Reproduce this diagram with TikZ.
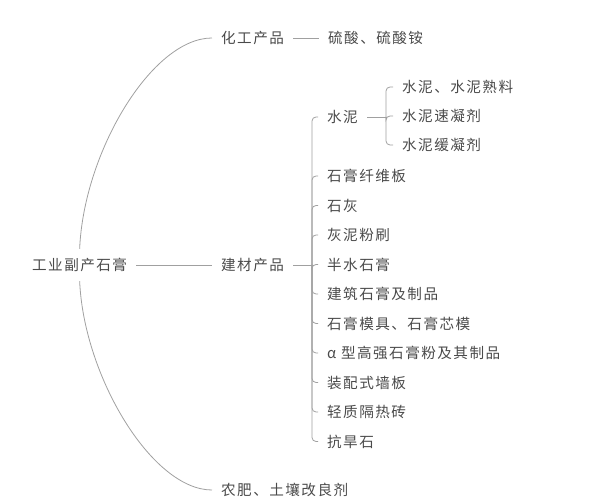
\documentclass[tikz,border=0pt]{standalone}
\usepackage{fontspec}
\newfontfamily\cjk[LetterSpace=10]{Noto Sans CJK SC}
\usetikzlibrary{calc, positioning}
\definecolor{txtgray}{HTML}{4A4A4A}
\definecolor{lngray}{HTML}{A0A0A0}
\tikzset{
  lbl/.style={anchor=west, inner xsep=9pt, inner ysep=3pt, text=txtgray, font=\cjk\fontsize{14.6pt}{16pt}\selectfont},
  link/.style={draw=lngray, line width=0.8pt},
}

\begin{document}
\begin{tikzpicture}[x=1pt, y=-1pt]
\useasboundingbox (0,0) rectangle (600,502);
% root and main branches
\node[lbl, inner ysep=9pt] (root) at (23,265) {工业副产石膏};
\node[lbl] (hg) at (212,38) {化工产品};
\node[lbl] (jc) at (212,265) {建材产品};
\node[lbl] (nf) at (212,490) {农肥、土壤改良剂};
\node[lbl] (ls) at (319,38) {硫酸、硫酸铵};
\draw[link] (root.north) .. controls +(4,-97) and +(-60,0) .. (hg.west);
\draw[link] (root.south) .. controls +(4,95) and +(-60,0) .. (nf.west);
\draw[link] (root.east) -- (jc.west);
\draw[link] (hg.east) -- (ls.west);
% building materials
\node[lbl] (sn) at (318,117) {水泥};
\foreach \t [count=\i from 2] in {石膏纤维板, 石灰, 灰泥粉刷, 半水石膏, 建筑石膏及制品, 石膏模具、石膏芯模, α 型高强石膏粉及其制品, 装配式墙板, 轻质隔热砖, 抗旱石}
  \node[lbl] (m\i) at (318,{117+29.5*\i}) {\t};
\coordinate (jb) at (312,265);
\draw[link] (jc.east) -- (jb);
\foreach \c in {sn, m2, m3, m4, m5, m6, m7, m8, m9, m10, m11}
  \draw[link, rounded corners=4pt] (jb) |- (\c.west);
% cement
\node[lbl] (s1) at (393,87) {水泥、水泥熟料};
\node[lbl] (s2) at (393,116) {水泥速凝剂};
\node[lbl] (s3) at (393,145) {水泥缓凝剂};
\coordinate (sb) at (386,117);
\draw[link] (sn.east) -- (sb);
\foreach \c in {s1, s2, s3}
  \draw[link, rounded corners=4pt] (sb) |- (\c.west);
\end{tikzpicture}
\end{document}
